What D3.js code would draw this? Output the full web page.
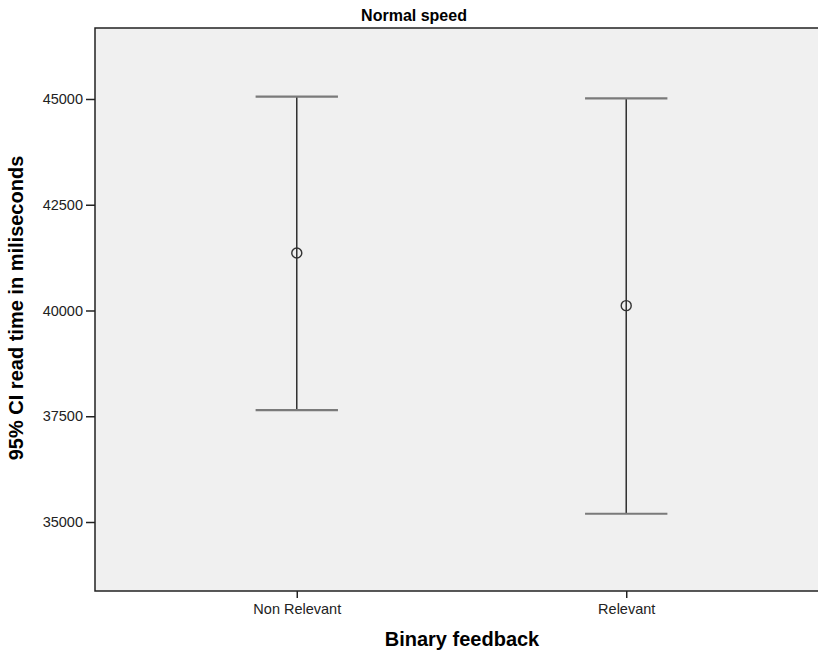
<!DOCTYPE html>
<html>
<head>
<meta charset="utf-8">
<script src="https://cdn.jsdelivr.net/npm/d3@7"></script>
<style>
  body { margin: 0; background: #fff; overflow: hidden; }
  svg { display: block; font-family: Arial, "Liberation Sans", sans-serif; }
</style>
</head>
<body>
<svg id="chart"></svg>
<script>
// Set data
const categories = ["Non Relevant", "Relevant"];
const means = [41360, 40115];
const lowerCI = [37645, 35195];
const upperCI = [45055, 45015];
const yTicks = [35000, 37500, 40000, 42500, 45000];

// Set width and height
const width = 818;
const height = 652;
const margin = {top: 28, left: 95, bottom: 591, right: 828};

const svg = d3.select("#chart")
    .attr("width", width)
    .attr("height", height);

// scales
const x = d3.scalePoint()
    .domain(categories)
    .range([margin.left, margin.right])
    .padding(0.6125);

const y = d3.scaleLinear()
    .domain([33369, 46678])
    .range([margin.bottom, margin.top]);

// plot background
svg.append("rect")
    .attr("x", margin.left).attr("y", margin.top)
    .attr("width", margin.right - margin.left)
    .attr("height", margin.bottom - margin.top)
    .attr("fill", "#f0f0f0")
    .attr("stroke", "#222")
    .attr("stroke-width", 1.5);

// axes
const yAxis = svg.append("g")
    .attr("transform", `translate(${margin.left},0)`)
    .call(d3.axisLeft(y).tickValues(yTicks).tickSize(9).tickPadding(3).tickFormat(d3.format("d")));
yAxis.select(".domain").remove();
yAxis.selectAll("line").attr("stroke", "#222").attr("stroke-width", 1.5);
yAxis.selectAll("text").attr("fill", "#222").style("font-size", "14.5px");

const xAxis = svg.append("g")
    .attr("transform", `translate(0,${margin.bottom})`)
    .call(d3.axisBottom(x).tickSize(7).tickPadding(6));
xAxis.select(".domain").remove();
xAxis.selectAll("line").attr("stroke", "#222").attr("stroke-width", 1.5);
xAxis.selectAll("text").attr("fill", "#222").style("font-size", "14.5px");

// error bars
const capHalf = x.step() * 0.125;
const bars = svg.append("g").selectAll("g")
    .data(categories)
    .join("g");

bars.append("line")
    .attr("x1", d => x(d)).attr("x2", d => x(d))
    .attr("y1", (d, i) => y(upperCI[i])).attr("y2", (d, i) => y(lowerCI[i]))
    .attr("stroke", "#222").attr("stroke-width", 1.4);

bars.append("line")
    .attr("x1", d => x(d) - capHalf).attr("x2", d => x(d) + capHalf)
    .attr("y1", (d, i) => y(upperCI[i])).attr("y2", (d, i) => y(upperCI[i]))
    .attr("stroke", "#7a7a7a").attr("stroke-width", 2.2);

bars.append("line")
    .attr("x1", d => x(d) - capHalf).attr("x2", d => x(d) + capHalf)
    .attr("y1", (d, i) => y(lowerCI[i])).attr("y2", (d, i) => y(lowerCI[i]))
    .attr("stroke", "#7a7a7a").attr("stroke-width", 2.2);

bars.append("circle")
    .attr("cx", d => x(d)).attr("cy", (d, i) => y(means[i]))
    .attr("r", 5)
    .attr("fill", "none")
    .attr("stroke", "#333").attr("stroke-width", 1.4);

// titles
svg.append("text")
    .attr("x", 414).attr("y", 21)
    .attr("text-anchor", "middle")
    .style("font-size", "16px").style("font-weight", "bold")
    .text("Normal speed");

svg.append("text")
    .attr("x", 462).attr("y", 646)
    .attr("text-anchor", "middle")
    .style("font-size", "20px").style("font-weight", "bold")
    .text("Binary feedback");

svg.append("text")
    .attr("transform", "translate(23,308) rotate(-90)")
    .attr("text-anchor", "middle")
    .style("font-size", "20px").style("font-weight", "bold")
    .text("95% CI read time in miliseconds");
</script>
</body>
</html>
